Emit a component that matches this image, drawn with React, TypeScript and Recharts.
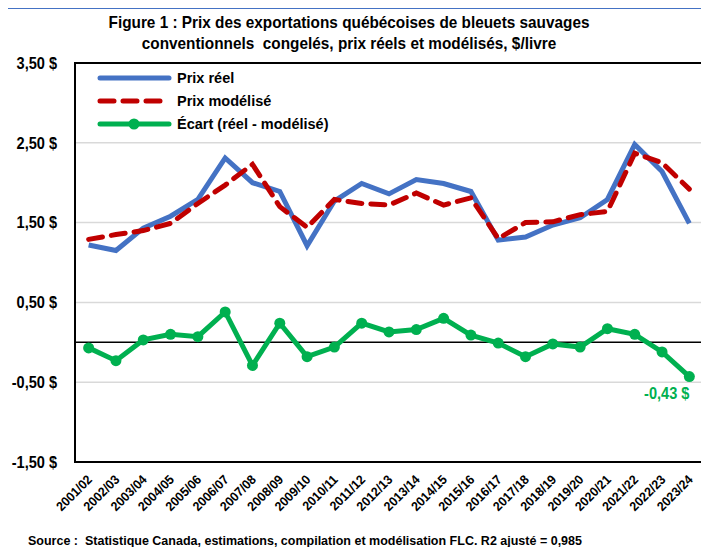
import React from "react";
import {
  LineChart,
  Line,
  XAxis,
  YAxis,
  CartesianGrid,
  ReferenceLine,
} from "recharts";

const years = [
  "2001/02", "2002/03", "2003/04", "2004/05", "2005/06", "2006/07",
  "2007/08", "2008/09", "2009/10", "2010/11", "2011/12", "2012/13",
  "2013/14", "2014/15", "2015/16", "2016/17", "2017/18", "2018/19",
  "2019/20", "2020/21", "2021/22", "2022/23", "2023/24",
];

const prixReel = [
  1.22, 1.15, 1.43, 1.58, 1.79, 2.31, 2.0, 1.89, 1.21, 1.77, 1.99, 1.86,
  2.04, 1.99, 1.89, 1.28, 1.32, 1.47, 1.56, 1.79, 2.48, 2.14, 1.49,
];

const prixModelise = [
  1.29, 1.35, 1.4, 1.49, 1.74, 1.97, 2.23, 1.7, 1.44, 1.79, 1.74, 1.72,
  1.87, 1.72, 1.81, 1.3, 1.5, 1.51, 1.6, 1.64, 2.37, 2.25, 1.92,
];

const ecart = [
  -0.07, -0.23, 0.03, 0.1, 0.07, 0.38, -0.29, 0.24, -0.18, -0.06, 0.24, 0.13,
  0.16, 0.3, 0.09, -0.01, -0.18, -0.02, -0.06, 0.17, 0.1, -0.12, -0.43,
];

const yTicks = [-1.5, -0.5, 0.5, 1.5, 2.5, 3.5];

const data = years.map((year, i) => ({
  year,
  reel: prixReel[i],
  modelise: prixModelise[i],
  ecart: ecart[i],
}));

const FONT = "'Liberation Sans', Arial, sans-serif";
const BLUE = "#4472C4";
const RED = "#C00000";
const GREEN = "#00B050";
const SQUEEZE = 0.91; // the original uses a narrow font

const money = (v: number) => `${v.toFixed(2).replace(".", ",")} $`;

const PLOT = { left: 75, top: 63, right: 703, bottom: 462 };
const HALF_BAND = (PLOT.right - PLOT.left) / years.length / 2;

function YTick({ y, payload }: any) {
  return (
    <text
      transform={`translate(57 ${y}) scale(${SQUEEZE} 1)`}
      dy="0.36em"
      textAnchor="end"
      fontSize={16}
      fontWeight="bold"
      fill="#000"
      fontFamily={FONT}
    >
      {money(payload.value)}
    </text>
  );
}

function XTick({ x, payload }: any) {
  const tx = x + 1;
  const ty = PLOT.bottom + 15;
  return (
    <text
      transform={`translate(${tx} ${ty}) rotate(-45) scale(0.95 1)`}
      dy="0.36em"
      textAnchor="end"
      fontSize={13}
      fontWeight="bold"
      fill="#000"
      fontFamily={FONT}
    >
      {payload.value}
    </text>
  );
}

function EcartLabel({ x, y, index }: any) {
  if (index !== ecart.length - 1) return null;
  return (
    <text
      transform={`translate(${x} ${y + 17}) scale(${SQUEEZE} 1)`}
      dy="0.36em"
      textAnchor="end"
      fontSize={16}
      fontWeight="bold"
      fill={GREEN}
      fontFamily={FONT}
    >
      {money(ecart[index])}
    </text>
  );
}

const legendItems = [
  { label: "Prix réel", color: BLUE, dash: undefined, dot: false },
  { label: "Prix modélisé", color: RED, dash: "14 9", dot: false },
  { label: "Écart (réel - modélisé)", color: GREEN, dash: undefined, dot: true },
];

function LegendBox() {
  return (
    <svg width={260} height={70} style={{ position: "absolute", left: 96, top: 70 }}>
      {legendItems.map((it, i) => {
        const cy = 8 + i * 23;
        return (
          <g key={it.label}>
            <line x1={4} x2={73} y1={cy} y2={cy} stroke={it.color} strokeWidth={5} strokeLinecap="round" strokeDasharray={it.dash} />
            {it.dot && <circle cx={38} cy={cy} r={5.5} fill={it.color} />}
            <text x={81} y={cy} dy="0.36em" fontSize={14.5} fontWeight="bold" fill="#000" fontFamily={FONT}>
              {it.label}
            </text>
          </g>
        );
      })}
    </svg>
  );
}

export default function App() {
  return (
    <div style={{ position: "relative", width: 709, height: 555, margin: -8, background: "#fff", overflow: "hidden" }}>
      <div style={{ position: "absolute", left: 6, top: 7, width: 760, height: 600, border: `2px solid ${BLUE}` }} />
      <div
        style={{
          position: "absolute",
          left: 0,
          width: 698,
          top: 12,
          textAlign: "center",
          fontFamily: FONT,
          fontWeight: "bold",
          fontSize: 16.5,
          lineHeight: "21px",
          transform: `scaleX(${SQUEEZE + 0.02})`,
        }}
      >
        Figure 1 : Prix des exportations québécoises de bleuets sauvages
        <br />
        conventionnels&nbsp; congelés, prix réels et modélisés, $/livre
      </div>
      <div style={{ position: "absolute", left: 0, top: 0 }}>
        <LineChart
          width={709}
          height={555}
          data={data}
          margin={{ top: PLOT.top, right: 709 - PLOT.right, bottom: 0, left: 0 }}
        >
          <CartesianGrid horizontal vertical={false} stroke="#d9d9d9" strokeWidth={1.5} />
          <XAxis
            dataKey="year"
            interval={0}
            tick={<XTick />}
            tickLine={false}
            axisLine={false}
            height={555 - PLOT.bottom}
            padding={{ left: HALF_BAND, right: HALF_BAND }}
          />
          <YAxis
            domain={[-1.5, 3.5]}
            ticks={yTicks}
            tick={<YTick />}
            tickLine={false}
            axisLine={false}
            width={PLOT.left}
            allowDataOverflow
          />
          <ReferenceLine y={0} stroke="#000" strokeWidth={1.5} />
          <Line
            dataKey="reel"
            name="Prix réel"
            stroke={BLUE}
            strokeWidth={5}
            dot={false}
            isAnimationActive={false}
          />
          <Line
            dataKey="modelise"
            name="Prix modélisé"
            stroke={RED}
            strokeWidth={5}
            strokeDasharray="14 9"
            strokeLinecap="round"
            dot={false}
            isAnimationActive={false}
          />
          <Line
            dataKey="ecart"
            name="Écart (réel - modélisé)"
            stroke={GREEN}
            strokeWidth={5}
            dot={{ r: 5.5, fill: GREEN, stroke: GREEN, strokeWidth: 0 }}
            label={<EcartLabel />}
            isAnimationActive={false}
          />
        </LineChart>
      </div>
      <LegendBox />
      <div
        style={{
          position: "absolute",
          left: PLOT.left - 1,
          top: PLOT.top - 1,
          width: PLOT.right - PLOT.left - 2,
          height: PLOT.bottom - PLOT.top - 2,
          border: "2px solid #000",
          pointerEvents: "none",
        }}
      />
      <div
        style={{
          position: "absolute",
          left: 28,
          top: 534,
          fontFamily: FONT,
          fontWeight: "bold",
          fontSize: 12.5,
          whiteSpace: "pre",
        }}
      >
        {"Source :  Statistique Canada, estimations, compilation et modélisation FLC. R2 ajusté = 0,985"}
      </div>
    </div>
  );
}
